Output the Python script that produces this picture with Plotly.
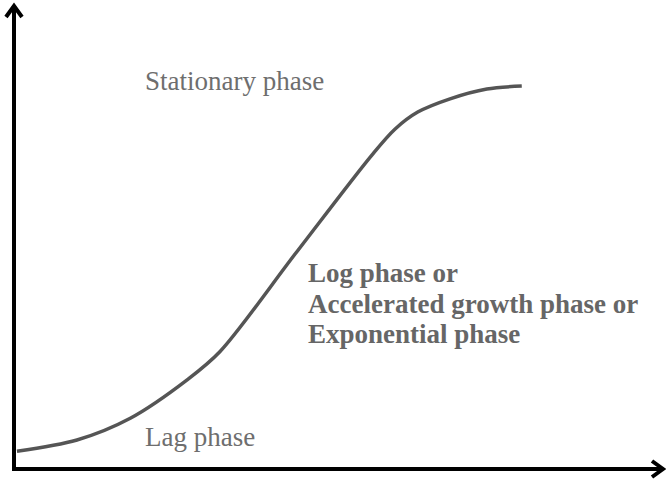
import plotly.graph_objects as go

W, H = 666, 482

# Growth curve (arbitrary units: time 0-100, population 0-100)
time = [0.46, 9.75, 18.0, 26.8, 31.9, 43.6, 55.4, 59.0, 62.5, 67.5, 73.2, 78.6]
population = [3.9, 6.35, 11.1, 19.5, 25.7, 47.2, 68.7, 74.4, 78.1, 81.0, 83.15, 83.8]

stationary_label = "Stationary phase"
log_label_lines = ["Log phase or", "Accelerated growth phase or", "Exponential phase"]
lag_label = "Lag phase"

# pixel -> paper helpers for decoration
def px(x):
    return x / W

def py(y):
    return 1 - y / H

fig = go.Figure()
fig.add_trace(go.Scatter(
    x=time, y=population, mode="lines",
    line=dict(color="#555555", width=3.5, shape="spline", smoothing=0.9),
    hoverinfo="skip", showlegend=False,
))

# axis range so that origin sits at pixel (14, 469)
x_scale = 6.46
y_scale = 4.57
fig.update_xaxes(range=[-14 / x_scale, (W - 14) / x_scale], visible=False, fixedrange=True)
fig.update_yaxes(range=[-(H - 469) / y_scale, 469 / y_scale], visible=False, fixedrange=True)

axis_col = "#000000"
shapes = [
    # y axis
    dict(type="line", xref="paper", yref="paper", x0=px(14), y0=py(471), x1=px(14), y1=py(6),
         line=dict(color=axis_col, width=4)),
    dict(type="path", xref="paper", yref="paper",
         path=f"M {px(6)} {py(17)} L {px(14)} {py(6)} L {px(22)} {py(17)}",
         line=dict(color=axis_col, width=4)),
    # x axis
    dict(type="line", xref="paper", yref="paper", x0=px(12), y0=py(469), x1=px(662), y1=py(469),
         line=dict(color=axis_col, width=4)),
    dict(type="path", xref="paper", yref="paper",
         path=f"M {px(652)} {py(461)} L {px(663)} {py(469)} L {px(652)} {py(477)}",
         line=dict(color=axis_col, width=4)),
]

reg_font = dict(family="Liberation Serif", size=27, color="#6e6e6e")
bold_font = dict(family="Liberation Serif", size=27, color="#666666")

annotations = [
    dict(text=stationary_label, xref="paper", yref="paper", x=px(143), y=py(81), xanchor="left",
         yanchor="middle", showarrow=False, font=reg_font),
    dict(text=lag_label, xref="paper", yref="paper", x=px(143), y=py(437), xanchor="left",
         yanchor="middle", showarrow=False, font=reg_font),
]
for line_text, yc in zip(log_label_lines, [272.5, 304, 334]):
    annotations.append(dict(text="<b>" + line_text + "</b>", xref="paper", yref="paper", x=px(306),
                            y=py(yc), xanchor="left", yanchor="middle", showarrow=False, font=bold_font))

fig.update_layout(
    width=W, height=H,
    margin=dict(l=0, r=0, t=0, b=0),
    paper_bgcolor="white", plot_bgcolor="white",
    shapes=shapes, annotations=annotations,
)

fig.write_html("out.html", config={"displayModeBar": False, "staticPlot": True},
               post_script="document.body.style.margin='0';document.body.style.padding='0';")
